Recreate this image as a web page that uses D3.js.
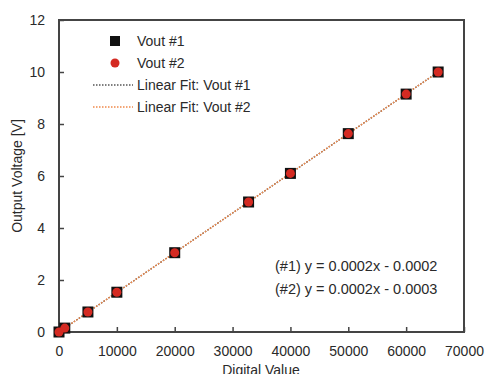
<!DOCTYPE html>
<html><head><meta charset="utf-8">
<script src="https://cdn.jsdelivr.net/npm/d3@7"></script>
<style>body{margin:0;background:#fff}svg{display:block}text{font-family:"Liberation Sans",Arial,sans-serif;fill:#2a2a2a}</style>
</head><body><svg id="c" width="487" height="374"></svg>
<script>
const digital = [0, 1000, 5000, 10000, 20000, 32768, 40000, 50000, 60000, 65535];
const vout1 = [0.0, 0.15, 0.77, 1.53, 3.05, 5.0, 6.1, 7.63, 9.15, 10.0];
const vout2 = [0.0, 0.15, 0.77, 1.53, 3.05, 5.0, 6.1, 7.63, 9.15, 10.0];
const fit1 = {slope: 0.0001526, intercept: -0.0002};
const fit2 = {slope: 0.0001526, intercept: -0.0003};
const xTicks = [0, 10000, 20000, 30000, 40000, 50000, 60000, 70000];
const yTicks = [0, 2, 4, 6, 8, 10, 12];
const legendLabels = ["Vout #1", "Vout #2", "Linear Fit: Vout #1", "Linear Fit: Vout #2"];
const equations = ["(#1) y = 0.0002x - 0.0002", "(#2) y = 0.0002x - 0.0003"];
const xTitle = "Digital Value", yTitle = "Output Voltage [V]";

const svg = d3.select("#c");
const L = 59, R = 464, T = 20, B = 332;
const x = d3.scaleLinear().domain([0, 70000]).range([L, R]);
const y = d3.scaleLinear().domain([0, 12]).range([B, T]);

// frame
svg.append("rect").attr("x", L).attr("y", T).attr("width", R - L).attr("height", B - T)
  .attr("fill", "none").attr("stroke", "#444").attr("stroke-width", 2);

// axes with inward ticks
const xa = svg.append("g").attr("transform", `translate(0,${B})`)
  .call(d3.axisBottom(x).tickValues(xTicks).tickSizeInner(-5).tickSizeOuter(0).tickPadding(14).tickFormat(d3.format("d")));
const ya = svg.append("g").attr("transform", `translate(${L},0)`)
  .call(d3.axisLeft(y).tickValues(yTicks).tickSizeInner(-5).tickSizeOuter(0).tickPadding(14).tickFormat(d3.format("d")));
[xa, ya].forEach(g => {
  g.select(".domain").remove();
  g.selectAll("line").attr("stroke", "#444").attr("stroke-width", 1.5);
  g.selectAll("text").style("font-size", "14px").attr("fill", "#2a2a2a").style("font-family", '"Liberation Sans",Arial,sans-serif');
});

// fit lines
const xs = [0, 65535];
const line = d3.line().x(d => x(d[0])).y(d => y(d[1]));
svg.append("path").attr("d", line(xs.map(v => [v, fit1.slope * v + fit1.intercept])))
  .attr("fill", "none").attr("stroke", "#333").attr("stroke-width", 1.3).attr("stroke-dasharray", "1.5,1.5");
svg.append("path").attr("d", line(xs.map(v => [v, fit2.slope * v + fit2.intercept])))
  .attr("fill", "none").attr("stroke", "#f0894a").attr("stroke-width", 1.5).attr("stroke-dasharray", "1.5,1.5");

// markers
svg.append("g").selectAll("rect").data(digital).join("rect")
  .attr("x", (d) => x(d) - 5.5).attr("y", (d, i) => y(vout1[i]) - 5.5)
  .attr("width", 11).attr("height", 11).attr("fill", "#111");
svg.append("g").selectAll("circle").data(digital).join("circle")
  .attr("cx", d => x(d)).attr("cy", (d, i) => y(vout2[i])).attr("r", 4.5).attr("fill", "#d42a22");

// legend
const lg = svg.append("g");
const ly = [41, 63, 85, 107];
lg.append("rect").attr("x", 110).attr("y", ly[0] - 5).attr("width", 10).attr("height", 10).attr("fill", "#111");
lg.append("circle").attr("cx", 115).attr("cy", ly[1]).attr("r", 4.5).attr("fill", "#d42a22");
lg.append("line").attr("x1", 93).attr("x2", 133).attr("y1", ly[2]).attr("y2", ly[2])
  .attr("stroke", "#555").attr("stroke-width", 1.3).attr("stroke-dasharray", "1.5,1.5");
lg.append("line").attr("x1", 93).attr("x2", 133).attr("y1", ly[3]).attr("y2", ly[3])
  .attr("stroke", "#f0894a").attr("stroke-width", 1.3).attr("stroke-dasharray", "1.5,1.5");
ly.forEach((yy, i) => {
  lg.append("text").attr("x", 137).attr("y", yy).attr("dy", "0.35em").style("font-size", "14px").text(legendLabels[i]);
});

// equations
equations.forEach((t, i) => {
  svg.append("text").attr("x", 275).attr("y", 266 + i * 23).attr("dy", "0.35em").style("font-size", "14.5px").text(t);
});

// axis titles
svg.append("text").attr("x", 261).attr("y", 370).attr("dy", "0.35em").attr("text-anchor", "middle").style("font-size", "14px").text(xTitle);
svg.append("text").attr("transform", "translate(17,176) rotate(-90)").attr("dy", "0.35em").attr("text-anchor", "middle").style("font-size", "14px").text(yTitle);
</script></body></html>
